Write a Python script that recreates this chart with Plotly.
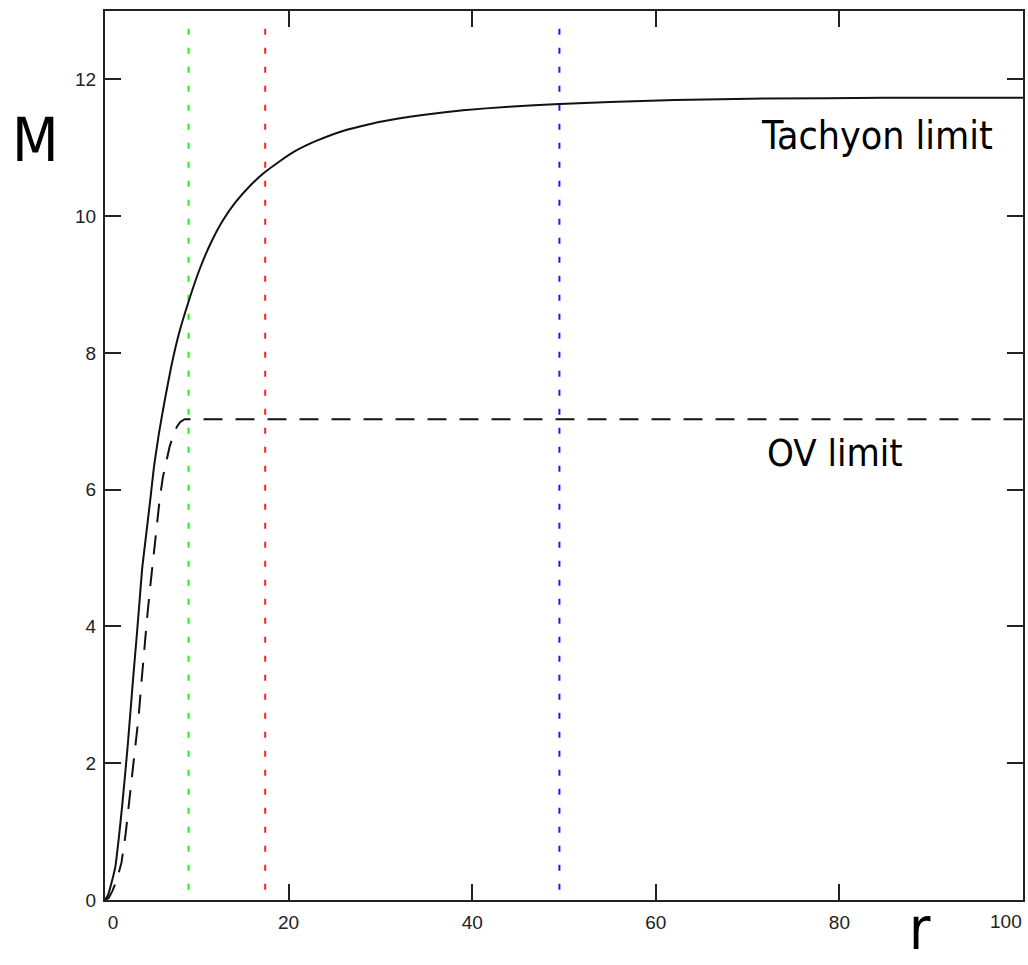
import plotly.graph_objects as go

# Mass profile M(r): full (solid) curve rising to the tachyon limit
r_full = [0, 0.35, 0.69, 1.12, 1.5, 1.85, 2.2, 2.5, 2.8, 3.1, 3.45, 3.77, 4.05,
          4.5, 4.93, 5.33, 5.87, 6.5, 7.2, 8.05, 9.15, 10.3, 11.5, 12.8, 14.2,
          15.7, 17.3, 19, 20.7, 23, 26, 30, 34.6, 39, 44, 49.5, 55, 62, 72, 85, 100]
m_full = [0, 0.08, 0.24, 0.48, 0.9, 1.35, 1.85, 2.3, 2.8, 3.3, 3.85, 4.38, 4.85,
          5.36, 5.85, 6.33, 6.82, 7.3, 7.79, 8.28, 8.77, 9.22, 9.6, 9.93, 10.2,
          10.43, 10.63, 10.8, 10.95, 11.1, 11.25, 11.38, 11.48, 11.55, 11.6, 11.64,
          11.67, 11.7, 11.72, 11.73, 11.73]

# Dashed curve saturating at the OV limit
r_ov = [0, 0.4, 0.8, 1.3, 1.8, 2.25, 2.62, 3.0, 3.3, 3.66, 3.95, 4.25, 4.57, 4.86,
        5.2, 5.5, 5.95, 6.3, 6.7, 7.04, 7.45, 7.83, 8.2, 8.67, 100]
m_ov = [0, 0.03, 0.13, 0.3, 0.55, 0.97, 1.42, 1.85, 2.2, 2.68, 3.15, 3.65, 4.1,
        4.5, 4.95, 5.36, 5.85, 6.18, 6.45, 6.63, 6.8, 6.92, 6.99, 7.03, 7.03]

# Vertical marker radii
marker_r = [9.1, 17.45, 49.5]
marker_colors = ["#22ee22", "#ff2222", "#1a1aff"]
marker_span = [0.15, 12.85]

x_ticks = [0, 20, 40, 60, 80, 100]
x_tick_labels = ["0", "20", "40", "60", "80", "100"]
y_ticks = [0, 2, 4, 6, 8, 10, 12]

tick_font = dict(family="Liberation Sans, Arial, sans-serif", size=19, color="#222222")

# The first label sits just inside the frame; the last one is right-aligned
# to the frame edge and drawn separately so it stays inside the page.
x_tick_text = ["\u00a0\u00a0\u00a0" + x_tick_labels[0]] + x_tick_labels[1:-1] + [""]

fig = go.Figure()

for rv, col in zip(marker_r, marker_colors):
    fig.add_trace(go.Scatter(
        x=[rv, rv], y=marker_span, mode="lines",
        line=dict(color=col, width=2, dash="6px,13px"),
        hoverinfo="skip", showlegend=False))

fig.add_trace(go.Scatter(
    x=r_ov, y=m_ov, mode="lines",
    line=dict(color="#111111", width=2, dash="19px,13px"),
    showlegend=False))

fig.add_trace(go.Scatter(
    x=r_full, y=m_full, mode="lines",
    line=dict(color="#111111", width=2, shape="spline", smoothing=0.4),
    showlegend=False))

axis_common = dict(
    showline=True, linewidth=2, linecolor="#222222", mirror="ticks",
    ticks="inside", ticklen=16, tickwidth=2, tickcolor="#222222",
    showgrid=False, zeroline=False, automargin=False,
    tickfont=tick_font,
)

fig.update_xaxes(range=[0, 100], tickvals=x_ticks, ticktext=x_tick_text,
                 ticklabelstandoff=4, **axis_common)
fig.update_yaxes(range=[0, 13], tickvals=y_ticks, ticklabelstandoff=3, **axis_common)

fig.add_annotation(x=x_ticks[-1], y=-0.0245, xref="x", yref="paper",
                   text=x_tick_labels[-1], showarrow=False,
                   xanchor="right", yanchor="middle", xshift=1, font=tick_font)

label_font = "DejaVu Sans Condensed, DejaVu Sans, sans-serif"

fig.add_annotation(x=71.2, y=11.18, xref="x", yref="y", text="Tachyon limit",
                   showarrow=False, xanchor="left", yanchor="middle",
                   font=dict(family=label_font, size=39, color="#000000"))
fig.add_annotation(x=71.9, y=6.54, xref="x", yref="y", text="OV limit",
                   showarrow=False, xanchor="left", yanchor="middle",
                   font=dict(family=label_font, size=38, color="#000000"))

# Axis titles
fig.add_annotation(x=-0.076, y=0.855, xref="paper", yref="paper", text="M",
                   showarrow=False, xanchor="center", yanchor="middle",
                   font=dict(family=label_font, size=60, color="#000000"))
fig.add_annotation(x=0.888, y=-0.073, xref="paper", yref="paper", text="r",
                   showarrow=False, xanchor="center", yanchor="bottom",
                   font=dict(family=label_font, size=58, color="#000000"))

fig.update_layout(
    width=1028, height=965,
    margin=dict(l=105, r=5, t=11, b=65),
    plot_bgcolor="white", paper_bgcolor="white",
)

fig.write_html("out.html")
